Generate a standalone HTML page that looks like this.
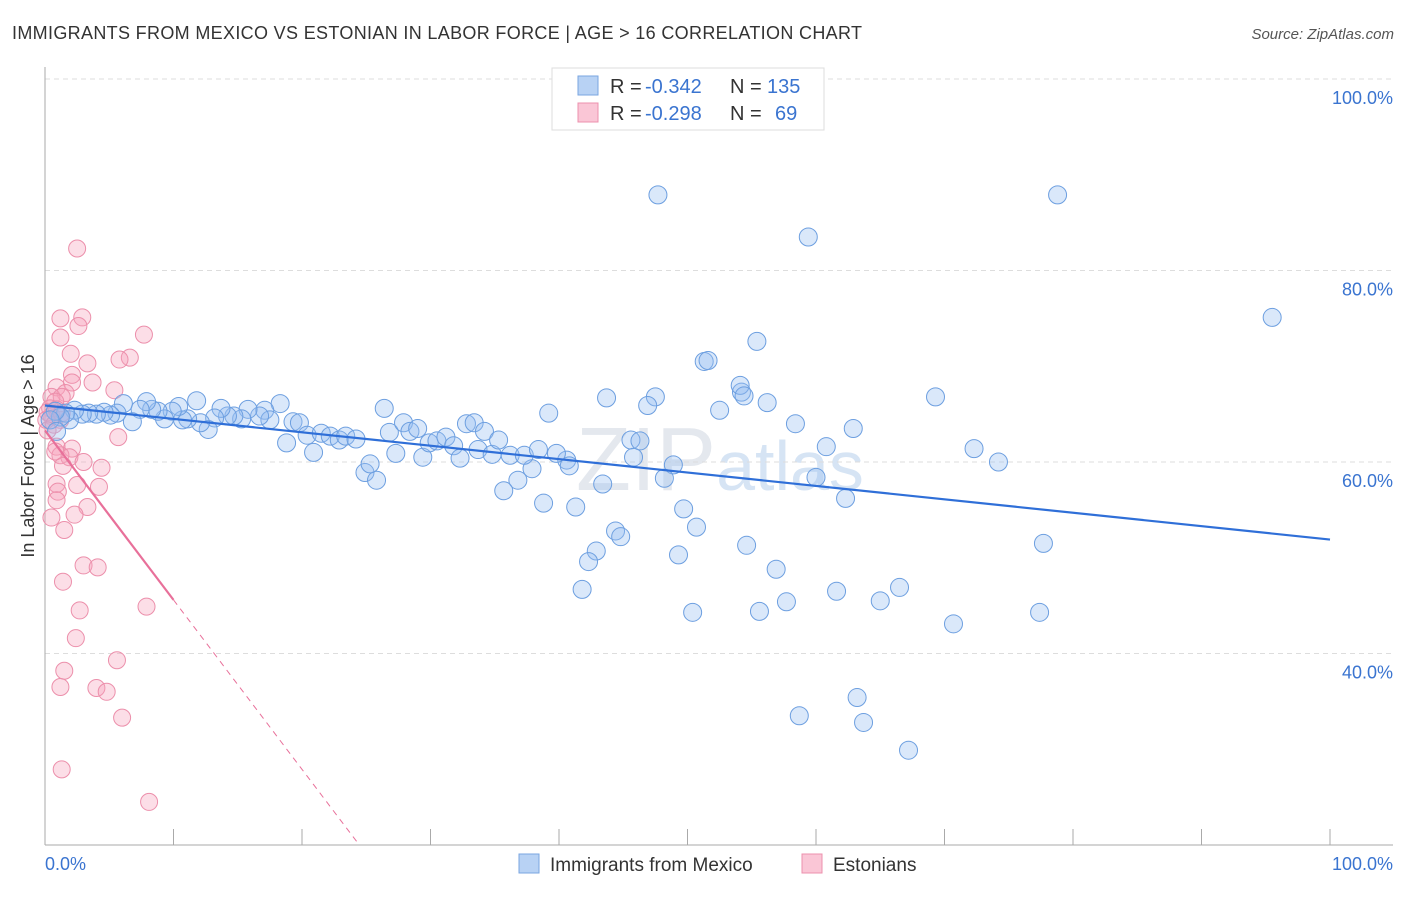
<!DOCTYPE html>
<html><head><meta charset="utf-8">
<style>
body{margin:0;background:#fff;font-family:"Liberation Sans",sans-serif;}
svg text{font-family:"Liberation Sans",sans-serif;}
</style></head>
<body>
<svg id="chart" width="1406" height="892" xmlns="http://www.w3.org/2000/svg">
<text x="12" y="39" font-size="18" fill="#333" textLength="850">IMMIGRANTS FROM MEXICO VS ESTONIAN IN LABOR FORCE | AGE &gt; 16 CORRELATION CHART</text>
<text x="1394" y="39" font-size="15" fill="#555" text-anchor="end" font-style="italic">Source: ZipAtlas.com</text>
<text x="720" y="490" font-size="90" fill="#e4e8ee" text-anchor="middle" font-family="Liberation Serif">ZIP<tspan fill="#d6e4f4" font-family="Liberation Sans" font-size="70">atlas</tspan></text>
<g id="grid"></g>
<g id="axes"></g>
<g id="pink"></g>
<g id="blue"></g>
<g id="trends"></g>
<text transform="translate(34,456) rotate(-90)" font-size="18" fill="#333" text-anchor="middle">In Labor Force | Age &gt; 16</text>
<g>
<rect x="552" y="68" width="272" height="62" fill="#fff" stroke="#ddd"/>
<rect x="578" y="76" width="20" height="19" fill="#b8d2f4" stroke="#7aa6e0"/>
<rect x="578" y="103" width="20" height="19" fill="#fac6d6" stroke="#ec90ad"/>
<text x="610" y="93" font-size="20" fill="#333">R =</text>
<text x="645" y="93" font-size="20" fill="#3a74d0">-0.342</text>
<text x="730" y="93" font-size="20" fill="#333">N =</text>
<text x="767" y="93" font-size="20" fill="#3a74d0">135</text>
<text x="610" y="120" font-size="20" fill="#333">R =</text>
<text x="645" y="120" font-size="20" fill="#3a74d0">-0.298</text>
<text x="730" y="120" font-size="20" fill="#333">N =</text>
<text x="775" y="120" font-size="20" fill="#3a74d0">69</text>
</g>
<g>
<rect x="519" y="854" width="20" height="19" fill="#b8d2f4" stroke="#7aa6e0"/>
<text x="550" y="871" font-size="19" fill="#333">Immigrants from Mexico</text>
<rect x="802" y="854" width="20" height="19" fill="#fac6d6" stroke="#ec90ad"/>
<text x="833" y="871" font-size="19" fill="#333">Estonians</text>
</g>
</svg>
<script>
const blueX=[47.7,78.8,59.4,95.5,55.4,51.3,51.6,54.2,54.1,54.4,43.7,47.5,69.3,56.2,46.9,52.5,39.2,26.4,58.4,62.9,60.8,45.6,46.3,45.8,72.3,74.2,48.9,40.6,40.8,43.4,48.2,60.0,36.8,37.9,35.7,38.8,41.3,62.3,49.7,50.7,44.4,44.8,42.9,42.3,49.3,54.6,77.7,56.9,41.8,50.4,55.6,57.7,61.6,65.0,66.5,70.7,77.4,63.2,63.7,58.7,67.2,24.9,25.8,25.3,27.3,26.8,27.9,28.4,29.0,29.4,29.9,30.5,31.2,31.8,32.3,32.8,33.4,33.7,34.2,34.8,35.3,36.2,37.3,38.4,39.8,18.3,19.3,19.8,18.8,20.4,20.9,21.5,22.2,22.9,23.4,24.2,17.1,17.5,16.7,15.8,15.3,14.7,14.2,13.7,13.2,12.7,12.1,11.8,11.1,10.7,10.4,9.9,9.3,8.8,8.3,7.9,7.4,6.8,6.1,5.6,5.1,4.6,4.0,3.4,2.9,2.3,1.9,1.6,1.2,0.8,0.4,0.9];
const blueY=[87.9,87.9,83.5,75.1,72.6,70.5,70.6,67.3,68.0,66.9,66.7,66.8,66.8,66.2,65.9,65.4,65.1,65.6,64.0,63.5,61.6,62.3,62.2,60.5,61.4,60.0,59.7,60.2,59.6,57.7,58.3,58.4,58.1,59.3,57.0,55.7,55.3,56.2,55.1,53.2,52.8,52.2,50.7,49.6,50.3,51.3,51.5,48.8,46.7,44.3,44.4,45.4,46.5,45.5,46.9,43.1,44.3,35.4,32.8,33.5,29.9,58.9,58.1,59.8,60.9,63.1,64.1,63.2,63.5,60.5,62.0,62.2,62.6,61.7,60.4,64.0,64.1,61.3,63.2,60.8,62.3,60.7,60.7,61.3,60.9,66.1,64.2,64.1,62.0,62.8,61.0,63.0,62.7,62.3,62.7,62.4,65.4,64.4,64.8,65.5,64.5,64.8,64.8,65.6,64.6,63.4,64.1,66.4,64.5,64.4,65.8,65.3,64.5,65.3,65.5,66.3,65.5,64.2,66.1,65.1,64.9,65.2,65.0,65.1,65.0,65.4,64.4,65.1,64.7,65.3,64.4,63.2];
const pinkX=[2.5,1.2,2.9,2.6,7.7,1.2,2.0,6.6,5.8,3.3,2.1,3.7,2.1,0.9,5.4,1.6,0.5,1.3,0.8,0.4,0.2,0.5,0.9,1.2,0.1,0.7,0.2,1.3,5.7,0.9,2.1,1.2,0.8,1.9,3.0,1.4,4.4,0.9,2.5,4.2,1.0,0.9,3.3,2.3,0.5,1.5,3.0,4.1,1.4,7.9,2.7,2.4,5.6,1.5,4.0,1.2,4.8,6.0,1.3,8.1];
const pinkY=[82.3,75.0,75.1,74.2,73.3,73.0,71.3,70.9,70.7,70.3,69.1,68.3,68.3,67.8,67.5,67.2,66.8,66.8,66.3,65.6,65.2,64.8,65.5,64.4,64.4,63.9,63.3,65.1,62.6,61.6,61.4,60.7,61.1,60.5,60.0,59.6,59.4,57.7,57.6,57.4,56.9,56.0,55.3,54.5,54.2,52.9,49.2,49.0,47.5,44.9,44.5,41.6,39.3,38.2,36.4,36.5,36.0,33.3,27.9,24.5];
const blueTrend=[65.9,51.9];      // y at x=0 and x=100
const pinkTrend=[63.3,-1.77];     // intercept, slope
const yTicks=[100,80,60,40];
const yTickLabels=["100.0%","80.0%","60.0%","40.0%"];
const xTicks=[0,10,20,30,40,50,60,70,80,90,100];

const NS="http://www.w3.org/2000/svg";
const sx=v=>45+v*12.85;
const sy=v=>79+(100-v)*9.575;
function mk(parent,tag,attrs){const e=document.createElementNS(NS,tag);for(const k in attrs)e.setAttribute(k,attrs[k]);document.getElementById(parent).appendChild(e);return e;}

yTicks.forEach((t,i)=>{
  const l=mk('grid','line',{x1:45,x2:1393,y1:sy(t),y2:sy(t),stroke:'#ddd','stroke-dasharray':'5,4'});
  
  
  const tx=mk('grid','text',{x:1393,y:sy(t)+25,'font-size':18,fill:'#3a74d0','text-anchor':'end'});
  tx.textContent=yTickLabels[i];
  
  
});
let a=mk('axes','line',{x1:45,x2:45,y1:67,y2:845,stroke:'#aaa'});


a=mk('axes','line',{x1:45,x2:1393,y1:845,y2:845,stroke:'#aaa'});


xTicks.forEach(t=>{
  const l=mk('axes','line',{x1:sx(t),x2:sx(t),y1:829,y2:845,stroke:'#aaa'});
  
  
});
let t0=mk('axes','text',{x:45,y:870,'font-size':18,fill:'#3a74d0'});t0.textContent='0.0%';


let t1=mk('axes','text',{x:1393,y:870,'font-size':18,fill:'#3a74d0','text-anchor':'end'});t1.textContent='100.0%';



pinkX.forEach((x,i)=>{
  const c=mk('pink','circle',{cx:sx(x),cy:sy(pinkY[i]),r:8.5,fill:'rgba(245,160,185,0.35)',stroke:'#ec8fab','stroke-width':1});
  
  
});
blueX.forEach((x,i)=>{
  const c=mk('blue','circle',{cx:sx(x),cy:sy(blueY[i]),r:9,fill:'rgba(150,190,240,0.35)',stroke:'#6d9fe0','stroke-width':1});
  
  
});
let bt=mk('trends','line',{x1:sx(0),y1:sy(blueTrend[0]),x2:sx(100),y2:sy(blueTrend[1]),stroke:'#2f6fd8','stroke-width':2.2});


const pf=x=>pinkTrend[0]+pinkTrend[1]*x;
let ps=mk('trends','line',{x1:sx(0),y1:sy(pf(0)),x2:sx(10),y2:sy(pf(10)),stroke:'#e8709a','stroke-width':2.2});


const xEnd=(20-pinkTrend[0])/pinkTrend[1];
let pd=mk('trends','line',{x1:sx(10),y1:sy(pf(10)),x2:sx(xEnd),y2:sy(pf(xEnd)),stroke:'#e8709a','stroke-width':1,'stroke-dasharray':'6,5'});


</script>
</body></html>
